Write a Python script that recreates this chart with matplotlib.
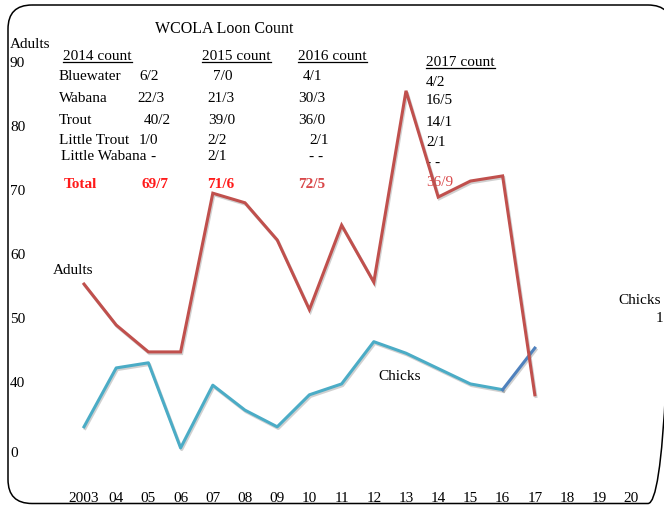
import numpy as np
import matplotlib
matplotlib.use('Agg')
from matplotlib import pyplot as plt
from matplotlib.patches import FancyBboxPatch
from matplotlib.lines import Line2D
import matplotlib.patheffects as pe

# data
years = [2003, 2004, 2005, 2006, 2007, 2008, 2009, 2010, 2011, 2012, 2013, 2014, 2015, 2016, 2017]
adults = [55.3, 48.9, 44.7, 44.7, 69.5, 68.0, 62.2, 51.3, 64.5, 55.6, 85.5, 68.9, 71.4, 72.2, 38.0]
chick_years = [2003, 2004, 2005, 2006, 2007, 2008, 2009, 2010, 2011, 2012, 2013, 2015, 2016, 2017]
chicks = [33.0, 42.2, 43.0, 29.7, 39.5, 35.6, 33.0, 38.0, 39.7, 46.3, 44.5, 39.7, 38.8, 45.3]

xtick_years = list(range(2003, 2021))
xtick_labels = ['2003', '04', '05', '06', '07', '08', '09', '10', '11', '12', '13',
                '14', '15', '16', '17', '18', '19', '20']
ytick_vals = [90, 80, 70, 60, 50, 40, 29.06]
ytick_labels = ['90', '80', '70', '60', '50', '40', '0']

# count table on the slide
lakes = ['Bluewater', 'Wabana', 'Trout', 'Little Trout', 'Little Wabana']
counts_2014 = ['6/2', '22/3', '40/2', '1/0', '-']
counts_2015 = ['7/0', '21/3', '39/0', '2/2', '2/1']
counts_2016 = ['4/1', '30/3', '36/0', '2/1', '- -']
counts_2017 = ['4/2', '16/5', '14/1', '2/1', '- -']
totals = ['69/7', '71/6', '72/5', '36/9']
headers = ['2014 count', '2015 count', '2016 count', '2017 count']

W, H = 664, 505
FONT = 'Liberation Serif'
FS = 11
red = '#C0504D'
cyan = '#4BACC6'
blue = '#4F81BD'

fig = plt.figure(figsize=(W/100, H/100), dpi=100)
fig.patch.set_facecolor('white')

# frame layer in pixel coords
fax = fig.add_axes([0, 0, 1, 1])
fax.set_xlim(0, W)
fax.set_ylim(H, 0)
fax.axis('off')
frame = FancyBboxPatch((8, 5), 664, 498.5, boxstyle='round,pad=0,rounding_size=24',
                       fill=False, edgecolor='black', linewidth=1.1)
fax.add_patch(frame)

def put(x, y, s, **kw):
    kw.setdefault('fontsize', FS)
    kw.setdefault('family', FONT)
    return fax.text(x, y, s, va='center', ha=kw.pop('ha', 'left'), **kw)

# main chart axes, full figure, scaled to the slide pixels
ax = fig.add_axes([0, 0, 1, 1], facecolor='none')
x0 = 2003 - 84/32.2
x1 = 2003 + (W - 84)/32.2
ax.set_xlim(x0, x1)
ax.set_ylim(90 - (H - 62)/6.4, 90 + 62/6.4)
for s in ax.spines.values():
    s.set_visible(False)

shadow = [pe.SimpleLineShadow(offset=(0.8, -1.2), shadow_color='#666666', alpha=0.3), pe.Normal()]
ax.plot(years, adults, color=red, lw=2.2, solid_joinstyle='miter', path_effects=shadow, zorder=5)
ax.plot(chick_years[:-1], chicks[:-1], color=cyan, lw=2.2, path_effects=shadow, zorder=4)
ax.plot(chick_years[-2:], chicks[-2:], color=blue, lw=2.2, path_effects=shadow, zorder=4)

ax.set_xticks(xtick_years)
ax.set_xticklabels(xtick_labels, family=FONT, fontsize=FS)
ax.tick_params(axis='x', length=0, pad=-9.5)
ax.set_yticks(ytick_vals)
ax.set_yticklabels(ytick_labels, family=FONT, fontsize=FS)
ax.tick_params(axis='y', length=0, pad=-7.2)
for lbl in ax.get_yticklabels():
    lbl.set_ha('left')

# texts
put(155, 29, 'WCOLA Loon Count', fontsize=11.5)
put(10, 45, 'Adults')
head_x = [63, 202, 298, 426]
head_y = [56, 56, 56, 62]
head_txt = []
for hx, hy, h in zip(head_x, head_y, headers):
    head_txt.append(put(hx, hy, h))

row_y = [77, 98, 120, 141, 157]
for ly, (name, lx) in zip(row_y, zip(lakes, [59, 59, 59, 59, 61])):
    put(lx, ly, name)

col_x = [[139, 137, 144, 139, 150], [213, 207, 208, 207, 207], [303, 298, 298, 309, 309]]
for xs, vals in zip(col_x, [counts_2014, counts_2015, counts_2016]):
    for cx, cy, v in zip(xs, row_y, vals):
        put(cx, cy, v)
for cy, v in zip([82, 101, 122, 142, 163], counts_2017):
    put(426, cy, v)

put(64, 184, 'Total', color='#FF1A1A', fontweight='bold')
tot_x = [142, 207, 298, 426]
tot_y = [184, 184, 184, 183]
tot_c = ['#FF1A1A', '#FF1A1A', '#D9484A', '#D9484A']
tot_w = ['bold', 'bold', 'bold', 'normal']
for tx, ty, t, c, w in zip(tot_x, tot_y, totals, tot_c, tot_w):
    put(tx, ty, t, color=c, fontweight=w)

put(53, 270, 'Adults')
put(378, 376, 'Chicks')
put(618, 301, 'Chicks')
put(656, 318, '1')

# underline the column headers
fig.canvas.draw()
r = fig.canvas.get_renderer()
inv = fax.transData.inverted()
for t in head_txt:
    bb = t.get_window_extent(r)
    (ax_, ay_), (bx_, by_) = inv.transform([(bb.x0, bb.y0), (bb.x1, bb.y0)])
    fax.add_line(Line2D([ax_, bx_], [ay_ - 1, by_ - 1], color='black', lw=0.9))

plt.savefig('out.png', dpi=100)
